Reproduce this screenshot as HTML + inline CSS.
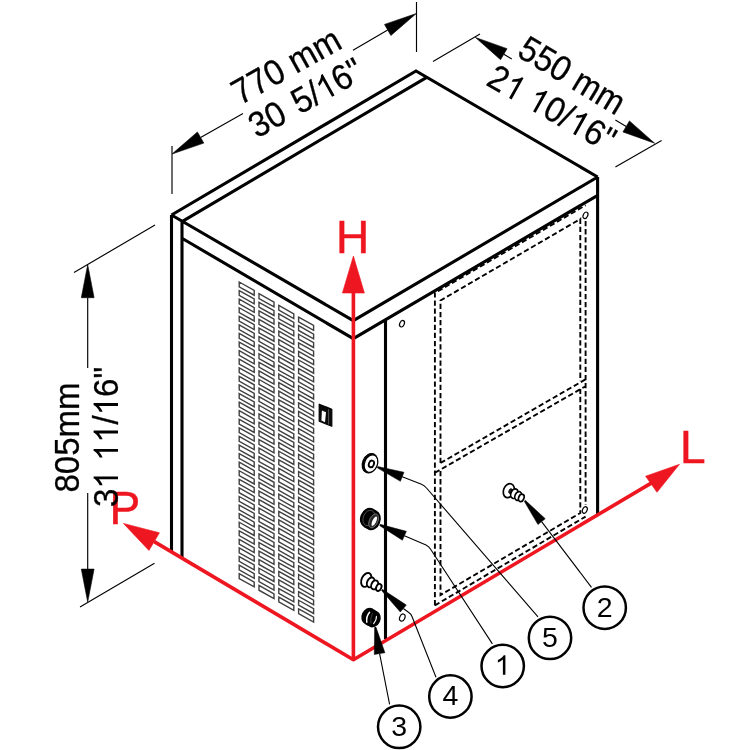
<!DOCTYPE html>
<html><head><meta charset="utf-8"><title>Dimensions</title>
<style>
html,body{margin:0;padding:0;background:#fff;}
body{width:750px;height:750px;overflow:hidden;}
svg{display:block;font-family:"Liberation Sans",sans-serif;}
</style></head><body>
<svg width="750" height="750" viewBox="0 0 750 750">
<rect width="750" height="750" fill="#fff"/>
<g opacity="0.999">
<path d="M239.20 282.00L254.20 290.40L254.20 295.20L239.20 286.80ZM239.20 290.58L254.20 298.98L254.20 303.78L239.20 295.38ZM239.20 299.16L254.20 307.56L254.20 312.36L239.20 303.96ZM239.20 307.74L254.20 316.14L254.20 320.94L239.20 312.54ZM239.20 316.32L254.20 324.72L254.20 329.52L239.20 321.12ZM239.20 324.90L254.20 333.30L254.20 338.10L239.20 329.70ZM239.20 333.48L254.20 341.88L254.20 346.68L239.20 338.28ZM239.20 342.06L254.20 350.46L254.20 355.26L239.20 346.86ZM239.20 350.64L254.20 359.04L254.20 363.84L239.20 355.44ZM239.20 359.22L254.20 367.62L254.20 372.42L239.20 364.02ZM239.20 367.80L254.20 376.20L254.20 381.00L239.20 372.60ZM239.20 376.38L254.20 384.78L254.20 389.58L239.20 381.18ZM239.20 384.96L254.20 393.36L254.20 398.16L239.20 389.76ZM239.20 393.54L254.20 401.94L254.20 406.74L239.20 398.34ZM239.20 402.12L254.20 410.52L254.20 415.32L239.20 406.92ZM239.20 410.70L254.20 419.10L254.20 423.90L239.20 415.50ZM239.20 419.28L254.20 427.68L254.20 432.48L239.20 424.08ZM239.20 427.86L254.20 436.26L254.20 441.06L239.20 432.66ZM239.20 436.44L254.20 444.84L254.20 449.64L239.20 441.24ZM239.20 445.02L254.20 453.42L254.20 458.22L239.20 449.82ZM239.20 453.60L254.20 462.00L254.20 466.80L239.20 458.40ZM239.20 462.18L254.20 470.58L254.20 475.38L239.20 466.98ZM239.20 470.76L254.20 479.16L254.20 483.96L239.20 475.56ZM239.20 479.34L254.20 487.74L254.20 492.54L239.20 484.14ZM239.20 487.92L254.20 496.32L254.20 501.12L239.20 492.72ZM239.20 496.50L254.20 504.90L254.20 509.70L239.20 501.30ZM239.20 505.08L254.20 513.48L254.20 518.28L239.20 509.88ZM239.20 513.66L254.20 522.06L254.20 526.86L239.20 518.46ZM239.20 522.24L254.20 530.64L254.20 535.44L239.20 527.04ZM239.20 530.82L254.20 539.22L254.20 544.02L239.20 535.62ZM239.20 539.40L254.20 547.80L254.20 552.60L239.20 544.20ZM239.20 547.98L254.20 556.38L254.20 561.18L239.20 552.78ZM239.20 556.56L254.20 564.96L254.20 569.76L239.20 561.36ZM239.20 565.14L254.20 573.54L254.20 578.34L239.20 569.94ZM239.20 573.72L254.20 582.12L254.20 586.92L239.20 578.52ZM259.00 293.70L274.00 302.10L274.00 306.90L259.00 298.50ZM259.00 302.28L274.00 310.68L274.00 315.48L259.00 307.08ZM259.00 310.86L274.00 319.26L274.00 324.06L259.00 315.66ZM259.00 319.44L274.00 327.84L274.00 332.64L259.00 324.24ZM259.00 328.02L274.00 336.42L274.00 341.22L259.00 332.82ZM259.00 336.60L274.00 345.00L274.00 349.80L259.00 341.40ZM259.00 345.18L274.00 353.58L274.00 358.38L259.00 349.98ZM259.00 353.76L274.00 362.16L274.00 366.96L259.00 358.56ZM259.00 362.34L274.00 370.74L274.00 375.54L259.00 367.14ZM259.00 370.92L274.00 379.32L274.00 384.12L259.00 375.72ZM259.00 379.50L274.00 387.90L274.00 392.70L259.00 384.30ZM259.00 388.08L274.00 396.48L274.00 401.28L259.00 392.88ZM259.00 396.66L274.00 405.06L274.00 409.86L259.00 401.46ZM259.00 405.24L274.00 413.64L274.00 418.44L259.00 410.04ZM259.00 413.82L274.00 422.22L274.00 427.02L259.00 418.62ZM259.00 422.40L274.00 430.80L274.00 435.60L259.00 427.20ZM259.00 430.98L274.00 439.38L274.00 444.18L259.00 435.78ZM259.00 439.56L274.00 447.96L274.00 452.76L259.00 444.36ZM259.00 448.14L274.00 456.54L274.00 461.34L259.00 452.94ZM259.00 456.72L274.00 465.12L274.00 469.92L259.00 461.52ZM259.00 465.30L274.00 473.70L274.00 478.50L259.00 470.10ZM259.00 473.88L274.00 482.28L274.00 487.08L259.00 478.68ZM259.00 482.46L274.00 490.86L274.00 495.66L259.00 487.26ZM259.00 491.04L274.00 499.44L274.00 504.24L259.00 495.84ZM259.00 499.62L274.00 508.02L274.00 512.82L259.00 504.42ZM259.00 508.20L274.00 516.60L274.00 521.40L259.00 513.00ZM259.00 516.78L274.00 525.18L274.00 529.98L259.00 521.58ZM259.00 525.36L274.00 533.76L274.00 538.56L259.00 530.16ZM259.00 533.94L274.00 542.34L274.00 547.14L259.00 538.74ZM259.00 542.52L274.00 550.92L274.00 555.72L259.00 547.32ZM259.00 551.10L274.00 559.50L274.00 564.30L259.00 555.90ZM259.00 559.68L274.00 568.08L274.00 572.88L259.00 564.48ZM259.00 568.26L274.00 576.66L274.00 581.46L259.00 573.06ZM259.00 576.84L274.00 585.24L274.00 590.04L259.00 581.64ZM259.00 585.42L274.00 593.82L274.00 598.62L259.00 590.22ZM278.80 305.40L293.80 313.80L293.80 318.60L278.80 310.20ZM278.80 313.98L293.80 322.38L293.80 327.18L278.80 318.78ZM278.80 322.56L293.80 330.96L293.80 335.76L278.80 327.36ZM278.80 331.14L293.80 339.54L293.80 344.34L278.80 335.94ZM278.80 339.72L293.80 348.12L293.80 352.92L278.80 344.52ZM278.80 348.30L293.80 356.70L293.80 361.50L278.80 353.10ZM278.80 356.88L293.80 365.28L293.80 370.08L278.80 361.68ZM278.80 365.46L293.80 373.86L293.80 378.66L278.80 370.26ZM278.80 374.04L293.80 382.44L293.80 387.24L278.80 378.84ZM278.80 382.62L293.80 391.02L293.80 395.82L278.80 387.42ZM278.80 391.20L293.80 399.60L293.80 404.40L278.80 396.00ZM278.80 399.78L293.80 408.18L293.80 412.98L278.80 404.58ZM278.80 408.36L293.80 416.76L293.80 421.56L278.80 413.16ZM278.80 416.94L293.80 425.34L293.80 430.14L278.80 421.74ZM278.80 425.52L293.80 433.92L293.80 438.72L278.80 430.32ZM278.80 434.10L293.80 442.50L293.80 447.30L278.80 438.90ZM278.80 442.68L293.80 451.08L293.80 455.88L278.80 447.48ZM278.80 451.26L293.80 459.66L293.80 464.46L278.80 456.06ZM278.80 459.84L293.80 468.24L293.80 473.04L278.80 464.64ZM278.80 468.42L293.80 476.82L293.80 481.62L278.80 473.22ZM278.80 477.00L293.80 485.40L293.80 490.20L278.80 481.80ZM278.80 485.58L293.80 493.98L293.80 498.78L278.80 490.38ZM278.80 494.16L293.80 502.56L293.80 507.36L278.80 498.96ZM278.80 502.74L293.80 511.14L293.80 515.94L278.80 507.54ZM278.80 511.32L293.80 519.72L293.80 524.52L278.80 516.12ZM278.80 519.90L293.80 528.30L293.80 533.10L278.80 524.70ZM278.80 528.48L293.80 536.88L293.80 541.68L278.80 533.28ZM278.80 537.06L293.80 545.46L293.80 550.26L278.80 541.86ZM278.80 545.64L293.80 554.04L293.80 558.84L278.80 550.44ZM278.80 554.22L293.80 562.62L293.80 567.42L278.80 559.02ZM278.80 562.80L293.80 571.20L293.80 576.00L278.80 567.60ZM278.80 571.38L293.80 579.78L293.80 584.58L278.80 576.18ZM278.80 579.96L293.80 588.36L293.80 593.16L278.80 584.76ZM278.80 588.54L293.80 596.94L293.80 601.74L278.80 593.34ZM278.80 597.12L293.80 605.52L293.80 610.32L278.80 601.92ZM298.60 317.10L313.60 325.50L313.60 330.30L298.60 321.90ZM298.60 325.68L313.60 334.08L313.60 338.88L298.60 330.48ZM298.60 334.26L313.60 342.66L313.60 347.46L298.60 339.06ZM298.60 342.84L313.60 351.24L313.60 356.04L298.60 347.64ZM298.60 351.42L313.60 359.82L313.60 364.62L298.60 356.22ZM298.60 360.00L313.60 368.40L313.60 373.20L298.60 364.80ZM298.60 368.58L313.60 376.98L313.60 381.78L298.60 373.38ZM298.60 377.16L313.60 385.56L313.60 390.36L298.60 381.96ZM298.60 385.74L313.60 394.14L313.60 398.94L298.60 390.54ZM298.60 394.32L313.60 402.72L313.60 407.52L298.60 399.12ZM298.60 402.90L313.60 411.30L313.60 416.10L298.60 407.70ZM298.60 411.48L313.60 419.88L313.60 424.68L298.60 416.28ZM298.60 420.06L313.60 428.46L313.60 433.26L298.60 424.86ZM298.60 428.64L313.60 437.04L313.60 441.84L298.60 433.44ZM298.60 437.22L313.60 445.62L313.60 450.42L298.60 442.02ZM298.60 445.80L313.60 454.20L313.60 459.00L298.60 450.60ZM298.60 454.38L313.60 462.78L313.60 467.58L298.60 459.18ZM298.60 462.96L313.60 471.36L313.60 476.16L298.60 467.76ZM298.60 471.54L313.60 479.94L313.60 484.74L298.60 476.34ZM298.60 480.12L313.60 488.52L313.60 493.32L298.60 484.92ZM298.60 488.70L313.60 497.10L313.60 501.90L298.60 493.50ZM298.60 497.28L313.60 505.68L313.60 510.48L298.60 502.08ZM298.60 505.86L313.60 514.26L313.60 519.06L298.60 510.66ZM298.60 514.44L313.60 522.84L313.60 527.64L298.60 519.24ZM298.60 523.02L313.60 531.42L313.60 536.22L298.60 527.82ZM298.60 531.60L313.60 540.00L313.60 544.80L298.60 536.40ZM298.60 540.18L313.60 548.58L313.60 553.38L298.60 544.98ZM298.60 548.76L313.60 557.16L313.60 561.96L298.60 553.56ZM298.60 557.34L313.60 565.74L313.60 570.54L298.60 562.14ZM298.60 565.92L313.60 574.32L313.60 579.12L298.60 570.72ZM298.60 574.50L313.60 582.90L313.60 587.70L298.60 579.30ZM298.60 583.08L313.60 591.48L313.60 596.28L298.60 587.88ZM298.60 591.66L313.60 600.06L313.60 604.86L298.60 596.46ZM298.60 600.24L313.60 608.64L313.60 613.44L298.60 605.04ZM298.60 608.82L313.60 617.22L313.60 622.02L298.60 613.62Z" fill="none" stroke="#404040" stroke-width="1.4"/>
<path d="M171.5 215 L416 71 L597.7 177 M171.5 215 L353.3 320.7 L597.7 177 M182.4 221.3 L426.7 77.3 M182.4 238.5 L353.3 338.7 L597.7 195.3 M171.5 215 L171.5 551.5 M182.0 221.1 L182.0 558 M597.6 177 L597.6 515 M385.5 320.5 L385.5 639" fill="none" stroke="#000" stroke-width="3.1" stroke-linejoin="miter" stroke-linecap="butt"/>
<path d="M434.9 605.4 L434.9 293.0 L585.6 205.2 M585.6 221 L585.6 505 M434.9 605.4 L585.6 516.6 M440.5 463 L440.5 300.5 L580.3 219 L580.3 381 M440.5 463 L585.6 379.3 M434.9 472.8 L585.6 386.2 M440.5 471 L440.5 595.0 L580.3 513.0 L580.3 389" fill="none" stroke="#000" stroke-width="1.9" stroke-dasharray="5.3 2.8"/>
<ellipse cx="402" cy="323.7" rx="2.2" ry="3.4" transform="rotate(25 402 323.7)" fill="#fff" stroke="#000" stroke-width="1.2"/>
<ellipse cx="585.5" cy="215.3" rx="2.2" ry="3.4" transform="rotate(25 585.5 215.3)" fill="#fff" stroke="#000" stroke-width="1.2"/>
<ellipse cx="584.8" cy="510" rx="2.2" ry="3.4" transform="rotate(25 584.8 510)" fill="#fff" stroke="#000" stroke-width="1.2"/>
<ellipse cx="402.3" cy="617.6" rx="2.5" ry="3.7" transform="rotate(25 402.3 617.6)" fill="#fff" stroke="#000" stroke-width="1.2"/>
<path d="M319.2 404.2 L331.8 409.2 L331.8 426.2 L319.2 421.2 Z" fill="#0a0a0a" stroke="#000" stroke-width="1.2" stroke-linejoin="round"/>
<path d="M321.9 410.6 L326.0 412.2 L325.0 422.2 L321.4 420.6 Z" fill="#fff"/>
<path d="M328.6 409.2 L328.6 424.6" stroke="#8a8a8a" stroke-width="0.6"/>
<path d="M353.4 659.7 L353.40 293.00" stroke="#ee1620" stroke-width="3.6" fill="none"/>
<polygon points="353.40,256.00 364.40,293.00 342.40,293.00" fill="#ee1620" stroke="#ee1620" stroke-width="0.6" stroke-linejoin="round"/>
<path d="M353.4 659.7 L154.20 541.65" stroke="#ee1620" stroke-width="3.6" fill="none"/>
<polygon points="123.40,523.40 159.45,532.79 148.95,550.51" fill="#ee1620" stroke="#ee1620" stroke-width="0.6" stroke-linejoin="round"/>
<path d="M353.4 659.7 L651.60 482.90" stroke="#ee1620" stroke-width="3.6" fill="none"/>
<polygon points="679.5,464.3 645.6,476.2 657.0,492.3" fill="#ee1620" stroke="#ee1620" stroke-width="0.6" stroke-linejoin="round"/>
<circle cx="353.4" cy="659.7" r="1.8" fill="#ee1620"/>
<text x="336.1" y="253.4" font-size="46" fill="#ee1620" stroke="#ee1620" stroke-width="0.5">H</text>
<text x="109.6" y="523.9" font-size="46" fill="#ee1620" stroke="#ee1620" stroke-width="0.5">P</text>
<text x="680.0" y="462.5" font-size="46" fill="#ee1620" stroke="#ee1620" stroke-width="0.5">L</text>
<path d="M172 146 L172 194 M416.5 2 L416.5 52 M433 61.5 L480 34 M615.4 167 L661.6 140.4 M74 272.5 L155 225 M80 607 L154.5 563.3" fill="none" stroke="#000" stroke-width="1.15"/>
<polygon points="172.00,154.00 197.42,132.00 203.80,143.10" fill="#000" stroke="#000" stroke-width="0.6" stroke-linejoin="round"/>
<polygon points="416.30,13.50 390.88,35.50 384.50,24.40" fill="#000" stroke="#000" stroke-width="0.6" stroke-linejoin="round"/>
<path d="M200.61 137.55 L243 113.5 M353 50.2 L387.69 29.95" stroke="#000" stroke-width="1.15" fill="none"/>
<polygon points="475.40,37.40 507.07,48.67 500.56,59.69" fill="#000" stroke="#000" stroke-width="0.6" stroke-linejoin="round"/>
<polygon points="654.60,143.20 622.93,131.93 629.44,120.91" fill="#000" stroke="#000" stroke-width="0.6" stroke-linejoin="round"/>
<path d="M503.82 54.18 L511.8 58.9 M615.4 120.1 L626.18 126.42" stroke="#000" stroke-width="1.15" fill="none"/>
<polygon points="87.70,264.70 94.10,297.70 81.30,297.70" fill="#000" stroke="#000" stroke-width="0.6" stroke-linejoin="round"/>
<polygon points="87.70,602.10 81.30,569.10 94.10,569.10" fill="#000" stroke="#000" stroke-width="0.6" stroke-linejoin="round"/>
<path d="M87.70 297.70 L87.7 368 M87.7 493 L87.70 569.10" stroke="#000" stroke-width="1.15" fill="none"/>
<g transform="translate(292 76.3) rotate(-29.2) scale(0.93 1)" fill="#000" stroke="#000" stroke-width="0.3"><text font-size="35.5" x="-64.12 -44.38 -24.63 4.97 34.55" y="0">770mm</text></g>
<g transform="translate(311.5 108.3) rotate(-29.2) scale(0.93 1)" fill="#000" stroke="#000" stroke-width="0.3"><path transform="translate(15.18 0) scale(0.01733 -0.01659)" d="M763 0H583V1147Q518 1085 412 1023Q307 961 223 930V1104Q374 1175 487 1276Q600 1377 647 1472H763Z"/><text font-size="35.5" x="-67.27 -47.53 -14.42 5.32 34.93 54.67" y="0">305/6&quot;</text></g>
<g transform="translate(566.0 85.7) rotate(31) scale(0.915 1)" fill="#000" stroke="#000" stroke-width="0.3"><text font-size="35.5" x="-64.12 -44.38 -24.63 4.97 34.55" y="0">550mm</text></g>
<g transform="translate(546 118.7) rotate(29.3) scale(0.93 1)" fill="#000" stroke="#000" stroke-width="0.3"><path transform="translate(-55.65 0) scale(0.01733 -0.01659)" d="M763 0H583V1147Q518 1085 412 1023Q307 961 223 930V1104Q374 1175 487 1276Q600 1377 647 1472H763Z"/><path transform="translate(-26.04 0) scale(0.01733 -0.01659)" d="M763 0H583V1147Q518 1085 412 1023Q307 961 223 930V1104Q374 1175 487 1276Q600 1377 647 1472H763Z"/><path transform="translate(23.31 0) scale(0.01733 -0.01659)" d="M763 0H583V1147Q518 1085 412 1023Q307 961 223 930V1104Q374 1175 487 1276Q600 1377 647 1472H763Z"/><text font-size="35.5" x="-75.39 -6.30 13.44 43.05 62.79" y="0">20/6&quot;</text></g>
<g transform="translate(79 437.5) rotate(-90) scale(0.93 1)" fill="#000" stroke="#000" stroke-width="0.3"><text font-size="35.5" x="-59.19 -39.44 -19.70 0.04 29.62" y="0">805mm</text></g>
<g transform="translate(118 437) rotate(-90) scale(0.93 1)" fill="#000" stroke="#000" stroke-width="0.3"><path transform="translate(-55.65 0) scale(0.01733 -0.01659)" d="M763 0H583V1147Q518 1085 412 1023Q307 961 223 930V1104Q374 1175 487 1276Q600 1377 647 1472H763Z"/><path transform="translate(-26.04 0) scale(0.01733 -0.01659)" d="M763 0H583V1147Q518 1085 412 1023Q307 961 223 930V1104Q374 1175 487 1276Q600 1377 647 1472H763Z"/><path transform="translate(-6.30 0) scale(0.01733 -0.01659)" d="M763 0H583V1147Q518 1085 412 1023Q307 961 223 930V1104Q374 1175 487 1276Q600 1377 647 1472H763Z"/><path transform="translate(23.31 0) scale(0.01733 -0.01659)" d="M763 0H583V1147Q518 1085 412 1023Q307 961 223 930V1104Q374 1175 487 1276Q600 1377 647 1472H763Z"/><text font-size="35.5" x="-75.39 13.44 43.05 62.79" y="0">3/6&quot;</text></g>
<ellipse cx="369.9" cy="463.2" rx="7.3" ry="10.0" transform="rotate(22 369.9 463.2)" fill="#000" stroke="#000" stroke-width="1.2"/>
<ellipse cx="371.0" cy="463.6" rx="6.4" ry="9.0" transform="rotate(22 371.0 463.6)" fill="#fff" stroke="#000" stroke-width="1.2"/>
<ellipse cx="371.4" cy="463.9" rx="2.5" ry="3.4" transform="rotate(22 371.4 463.9)" fill="#fff" stroke="#000" stroke-width="1.8"/>
<ellipse cx="368.4" cy="517.8" rx="7.4" ry="9.6" transform="rotate(22 368.4 517.8)" fill="#000" stroke="#000" stroke-width="1.5"/>
<ellipse cx="370.4" cy="518.9" rx="7.4" ry="9.6" transform="rotate(22 370.4 518.9)" fill="#000" stroke="#000" stroke-width="1.5"/>
<ellipse cx="372.4" cy="520.2" rx="7.4" ry="9.6" transform="rotate(22 372.4 520.2)" fill="#000" stroke="#000" stroke-width="1.5"/>
<ellipse cx="368.9" cy="518.0" rx="5.6" ry="8.0" transform="rotate(22 368.9 518.0)" fill="none" stroke="#555" stroke-width="0.8"/>
<ellipse cx="373.6" cy="520.9" rx="4.2" ry="7.4" transform="rotate(25 373.6 520.9)" fill="#2b2b2b" stroke="#777" stroke-width="0.8"/>
<ellipse cx="374.3" cy="521.2" rx="2.3" ry="5.6" transform="rotate(26 374.3 521.2)" fill="#fff" stroke="#000" stroke-width="0.6"/>
<ellipse cx="366.3" cy="579.9" rx="4.7" ry="7.3" transform="rotate(24 366.3 579.9)" fill="#fff" stroke="#000" stroke-width="1.9"/>
<ellipse cx="370.7" cy="582.4" rx="3.5" ry="5.1" transform="rotate(24 370.7 582.4)" fill="#fff" stroke="#000" stroke-width="1.9"/>
<ellipse cx="374.7" cy="584.9" rx="3.3" ry="4.7" transform="rotate(24 374.7 584.9)" fill="#fff" stroke="#000" stroke-width="1.9"/>
<ellipse cx="378.8" cy="587.4" rx="2.5" ry="3.7" transform="rotate(24 378.8 587.4)" fill="#fff" stroke="#000" stroke-width="1.9"/>
<ellipse cx="368.6" cy="616.2" rx="6.3" ry="7.9" transform="rotate(25 368.6 616.2)" fill="#000" stroke="#000" stroke-width="1.5"/>
<ellipse cx="370.9" cy="617.6" rx="6.3" ry="7.9" transform="rotate(25 370.9 617.6)" fill="#000" stroke="#000" stroke-width="1.5"/>
<ellipse cx="373.4" cy="619.0" rx="6.3" ry="7.9" transform="rotate(25 373.4 619.0)" fill="#000" stroke="#000" stroke-width="1.5"/>
<path d="M369.6 612.2 Q366.0 616.4 366.8 622.2" fill="none" stroke="#fff" stroke-width="1.5" stroke-linecap="round"/>
<path d="M376.4 616.4 Q376.6 620.4 373.6 623.6" fill="none" stroke="#fff" stroke-width="1.1" stroke-linecap="round"/>
<path d="M372.6 613.0 Q370.0 618 371.0 623.6" fill="none" stroke="#444" stroke-width="0.9"/>
<ellipse cx="508.8" cy="490.7" rx="5.3" ry="7.2" transform="rotate(22 508.8 490.7)" fill="#fff" stroke="#000" stroke-width="1.7"/>
<ellipse cx="510.6" cy="491.2" rx="1.7" ry="2.6" transform="rotate(22 510.6 491.2)" fill="#222" stroke="#000" stroke-width="0.8"/>
<ellipse cx="514.4" cy="493.7" rx="3.5" ry="4.9" transform="rotate(22 514.4 493.7)" fill="#fff" stroke="#000" stroke-width="1.7"/>
<ellipse cx="518.2" cy="496.0" rx="3.2" ry="4.5" transform="rotate(22 518.2 496.0)" fill="#fff" stroke="#000" stroke-width="1.7"/>
<ellipse cx="521.3" cy="497.9" rx="2.6" ry="3.8" transform="rotate(22 521.3 497.9)" fill="#fff" stroke="#000" stroke-width="1.7"/>
<polygon points="377.75,466.55 403.98,472.23 400.42,481.37 377.25,467.85" fill="#000" stroke="#000" stroke-width="0.5" stroke-linejoin="round"/>
<polygon points="380.28,524.36 406.38,531.32 402.42,540.28 379.72,525.64" fill="#000" stroke="#000" stroke-width="0.5" stroke-linejoin="round"/>
<polygon points="382.46,589.37 406.33,605.04 400.27,611.96 381.54,590.43" fill="#000" stroke="#000" stroke-width="0.5" stroke-linejoin="round"/>
<polygon points="375.99,627.09 384.93,652.73 374.27,654.47 374.61,627.31" fill="#000" stroke="#000" stroke-width="0.5" stroke-linejoin="round"/>
<polygon points="525.34,500.36 545.26,518.65 537.94,524.55 524.26,501.24" fill="#000" stroke="#000" stroke-width="0.5" stroke-linejoin="round"/>
<path d="M402.2 476.8 L421.5 484.2 Q424.5 485.5 426.5 488 L538 616.8 M404.4 535.8 L426 545 Q429 546.5 430.8 549.5 L492.4 643.9 M403.3 608.5 L408.5 612.3 Q411 614 412 616.5 L436 677.2 M379.6 653.6 L389.6 704.4 M541.6 521.6 L591.5 587.3" fill="none" stroke="#000" stroke-width="1.1"/>
<circle cx="399.2" cy="726.8" r="21.2" fill="#fff" stroke="#000" stroke-width="2.5"/>
<g transform="translate(399.2 735.5999999999999)" fill="#000"><text font-size="28.5" x="-7.93" y="0">3</text></g>
<circle cx="450.4" cy="696.5" r="21.2" fill="#fff" stroke="#000" stroke-width="2.5"/>
<g transform="translate(450.4 705.3)" fill="#000"><text font-size="28.5" x="-7.93" y="0">4</text></g>
<circle cx="502.7" cy="666" r="21.2" fill="#fff" stroke="#000" stroke-width="2.5"/>
<g transform="translate(502.7 674.8)" fill="#000"><path transform="translate(-7.93 0) scale(0.01392 -0.01332)" d="M763 0H583V1147Q518 1085 412 1023Q307 961 223 930V1104Q374 1175 487 1276Q600 1377 647 1472H763Z"/><text font-size="28.5" x="" y="0"></text></g>
<circle cx="550" cy="637.9" r="21.2" fill="#fff" stroke="#000" stroke-width="2.5"/>
<g transform="translate(550 646.6999999999999)" fill="#000"><text font-size="28.5" x="-7.93" y="0">5</text></g>
<circle cx="604.7" cy="607.7" r="21.2" fill="#fff" stroke="#000" stroke-width="2.5"/>
<g transform="translate(604.7 616.5)" fill="#000"><text font-size="28.5" x="-7.93" y="0">2</text></g>
</g>
</svg>
</body></html>
